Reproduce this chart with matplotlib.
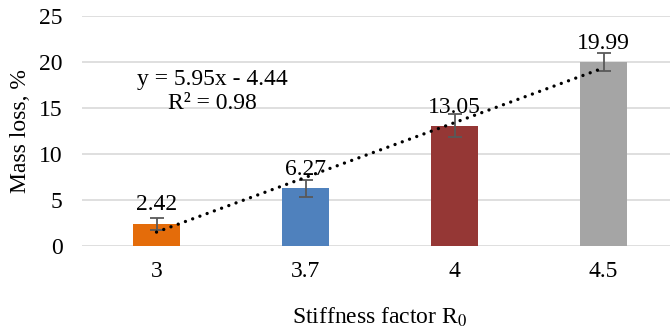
import numpy as np
import matplotlib.pyplot as plt

plt.rcParams['font.family'] = ['Liberation Serif', 'DejaVu Serif']
plt.rcParams['mathtext.fontset'] = 'stix'

categories = ['3', '3.7', '4', '4.5']
mass_loss = [2.42, 6.27, 13.05, 19.99]
errors = [0.65, 0.9, 1.25, 1.0]
colors = ['#E46C0A', '#4F81BD', '#953735', '#A5A5A5']
slope, intercept = 5.95, -4.44

fig = plt.figure(figsize=(6.7, 3.32), dpi=100)
ax = fig.add_axes([0.1224, 0.259, 0.8896, 0.6928])

x = np.arange(len(categories))
ax.bar(x, mass_loss, width=0.315, color=colors, zorder=2)
ax.errorbar(x, mass_loss, yerr=errors, fmt='none', ecolor='#595959',
            elinewidth=1.3, capsize=5, capthick=1.3, zorder=3)

for i, v in enumerate(mass_loss):
    ax.annotate(f'{v:.2f}', (x[i], v), xytext=(0, 6), textcoords='offset points',
                ha='center', va='bottom', fontsize=17)

# linear trendline over category index 1..n
trend = [slope * (i + 1) + intercept for i in x]
ax.plot(x, trend, color='black', linewidth=2.4, linestyle=(0, (0.01, 2.3)),
        dash_capstyle='round', zorder=4)
ax.text(0.376, 18.15, 'y = 5.95x - 4.44', ha='center', va='center', fontsize=17)
ax.text(0.376, 15.45, 'R² = 0.98', ha='center', va='center', fontsize=17)

ax.set_xlim(-0.5, 3.5)
ax.set_ylim(0, 25)
ax.set_yticks(range(0, 26, 5))
ax.set_xticks(x)
ax.set_xticklabels(categories)
ax.grid(axis='y', color='#D9D9D9', linewidth=1.2, zorder=0)
ax.set_axisbelow(True)
for s in ax.spines.values():
    s.set_visible(False)
ax.tick_params(axis='both', length=0, labelsize=17)
ax.tick_params(axis='y', pad=14)
ax.tick_params(axis='x', pad=11)
ax.set_ylabel('Mass loss, %', fontsize=17, labelpad=6)
ax.set_xlabel('Stiffness factor R$_0$', fontsize=17, labelpad=17)

fig.savefig('out.png', dpi=100)
